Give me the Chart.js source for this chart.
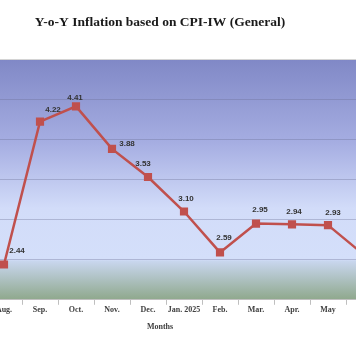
<!DOCTYPE html>
<html>
<head>
<meta charset="utf-8">
<script src="https://cdn.jsdelivr.net/npm/chart.js@4"></script>
<style>
  html, body { margin: 0; padding: 0; background: #ffffff; overflow: hidden; width: 356px; height: 364px; }
  #wrap { position: absolute; left: -62px; top: 0; width: 452px; height: 364px; }
</style>
</head>
<body>
<div id="wrap"><canvas id="c" width="452" height="364"></canvas></div>
<script>
const categories = ["Aug.", "Sep.", "Oct.", "Nov.", "Dec.", "Jan. 2025", "Feb.", "Mar.", "Apr.", "May", "Jun."];
const inflation = [2.44, 4.22, 4.41, 3.88, 3.53, 3.10, 2.59, 2.95, 2.94, 2.93, 2.56];
const yTicks = [2.0, 2.5, 3.0, 3.5, 4.0, 4.5, 5.0];
const chartTitle = "Y-o-Y Inflation based on CPI-IW (General)";
const xTitle = "Months";

// label placement styling (pixel nudges relative to each point)
const labelNudge = [[13,-14],[13,-12],[-1,-9],[15,-5],[-5,-13],[2,-13],[4,-15],[4,-14],[2,-13],[5,-12],[4,-13]];

const bgPlugin = {
  id: 'plotBg',
  beforeDraw(chart) {
    const {ctx, chartArea: a} = chart;
    const g = ctx.createLinearGradient(0, a.top, 0, a.bottom);
    g.addColorStop(0, '#8088c6');
    g.addColorStop(0.35, '#a6aee2');
    g.addColorStop(0.62, '#d2dcf9');
    g.addColorStop(0.832, '#d4dffa');
    g.addColorStop(0.84, '#c8d6ee');
    g.addColorStop(1, '#8fa88c');
    ctx.save();
    ctx.fillStyle = g;
    ctx.fillRect(a.left, a.top, a.right - a.left, a.bottom - a.top);
    ctx.restore();
  }
};

const labelPlugin = {
  id: 'valLabels',
  afterDatasetsDraw(chart) {
    const {ctx} = chart;
    const meta = chart.getDatasetMeta(0);
    ctx.save();
    ctx.font = 'bold 8px "Liberation Sans", Arial, sans-serif';
    ctx.fillStyle = '#333333';
    ctx.textAlign = 'center';
    ctx.textBaseline = 'middle';
    meta.data.forEach((pt, i) => {
      const n = labelNudge[i] || [0, -13];
      ctx.fillText(inflation[i].toFixed(2), pt.x + n[0], pt.y + n[1]);
    });
    ctx.restore();
  }
};

new Chart(document.getElementById('c'), {
  type: 'line',
  data: {
    labels: categories,
    datasets: [{
      label: 'Y-o-Y Inflation',
      data: inflation,
      borderColor: '#c0504d',
      backgroundColor: '#c0504d',
      borderWidth: 2.5,
      pointStyle: 'rect',
      pointRadius: 4,
      pointBackgroundColor: '#c0504d',
      pointBorderColor: '#c0504d',
      tension: 0,
      clip: false
    }]
  },
  options: {
    responsive: false,
    animation: false,
    layout: { padding: { left: 0, right: 8, top: 0, bottom: 0 } },
    plugins: {
      legend: { display: false },
      tooltip: { enabled: false },
      title: {
        display: true,
        text: chartTitle,
        color: '#1a1a1a',
        font: { family: '"Liberation Serif", "Times New Roman", serif', size: 13.5, weight: 'bold' },
        padding: { top: 14, bottom: 28.8 }
      },
      subtitle: {
        display: true,
        position: 'bottom',
        text: xTitle,
        color: '#404040',
        font: { family: '"Liberation Serif", "Times New Roman", serif', size: 8, weight: 'bold' },
        padding: { top: 8, bottom: 32 }
      }
    },
    scales: {
      x: {
        offset: true,
        grid: { offset: true, drawOnChartArea: false, drawTicks: true, tickLength: 5, color: '#bfbfbf' },
        border: { display: true, color: '#bfbfbf' },
        ticks: {
          autoSkip: false, maxRotation: 0, padding: 0,
          color: '#404040',
          font: { family: '"Liberation Serif", "Times New Roman", serif', size: 8, weight: 'bold' }
        }
      },
      y: {
        min: 2.0, max: 5.0,
        afterBuildTicks(scale) { scale.ticks = yTicks.map(v => ({ value: v })); },
        afterFit(scale) { scale.width = 48; },
        border: { display: false },
        grid: {
          drawTicks: false,
          lineWidth: 1,
          color: ctx => ctx.tick && ctx.tick.value === 5 ? '#d4d4d4' : (ctx.tick && ctx.tick.value === 2 ? 'rgba(0,0,0,0)' : 'rgba(105,110,145,0.35)')
        },
        ticks: { display: false }
      }
    }
  },
  plugins: [bgPlugin, labelPlugin]
});
</script>
</body>
</html>
